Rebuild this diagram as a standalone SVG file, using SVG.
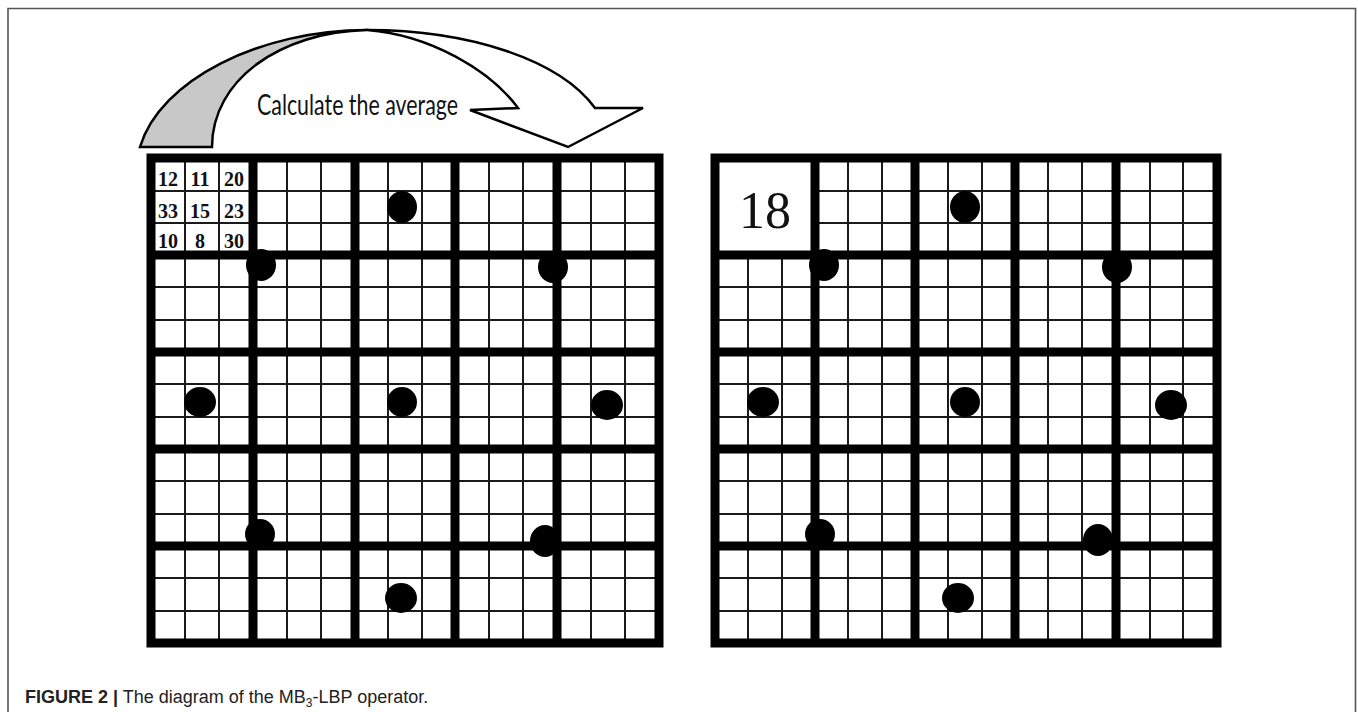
<svg xmlns="http://www.w3.org/2000/svg" width="1358" height="712" viewBox="0 0 1358 712">
<style>
.frame{fill:none;stroke:#555;stroke-width:1.6}
.fine{stroke:#1a1a1a;stroke-width:2;fill:none}
.thick{stroke:#000;stroke-width:9;fill:none;stroke-linecap:square}
.dot{fill:#000}
.num{font-family:"Liberation Serif",serif;font-weight:bold;font-size:20px;fill:#111;text-anchor:middle}
.big{font-family:"Liberation Serif",serif;font-size:52px;fill:#111;text-anchor:middle}
.arrow{stroke:#000;stroke-width:2.5;stroke-linejoin:miter}
.label{font-family:Lato,"Open Sans",sans-serif;font-size:28px;fill:#111}
.cap{font-family:"Liberation Sans",Arial,sans-serif;font-size:18px;fill:#222}
</style>
<rect width="1358" height="712" fill="#fff"/>
<path class="frame" d="M8,712 V8.5 H1355.5 V712"/>

<g id="arrow">
  <path class="arrow" fill="#c8c8c8" d="M140,147 C160,80 260,30 367,30 C280,32 212,80 212,147 Z"/>
  <path class="arrow" fill="#fff" d="M367,30 C470,30 560,60 595,108 L643,108 L568,147 L470,110 L518,108 C490,70 430,35 367,30 Z"/>
  <text class="label" x="257" y="115" textLength="201" lengthAdjust="spacingAndGlyphs">Calculate the average</text>
</g>

<g id="grid-left">
  <path class="fine" d="M185,158V643M219,158V643M287,158V643M321,158V643M388,158V643M422,158V643M489,158V643M523,158V643M591,158V643M625,158V643
  M151,191H659M151,223H659M151,287H659M151,320H659M151,384H659M151,417H659M151,481H659M151,514H659M151,578H659M151,611H659"/>
  <path class="thick" d="M151,158V643M253,158V643M355,158V643M455,158V643M557,158V643M659,158V643
  M151,158H659M151,255H659M151,352H659M151,449H659M151,546H659M151,643H659"/>
  <g id="values">
    <text class="num" x="168" y="186">12</text>
    <text class="num" x="200" y="186">11</text>
    <text class="num" x="234" y="186">20</text>
    <text class="num" x="168" y="218">33</text>
    <text class="num" x="200" y="218">15</text>
    <text class="num" x="234" y="218">23</text>
    <text class="num" x="168" y="248">10</text>
    <text class="num" x="200" y="248">8</text>
    <text class="num" x="234" y="248">30</text>
  </g>
  <g id="dots-left">
    <ellipse class="dot" cx="402" cy="207" rx="15" ry="16"/>
    <ellipse class="dot" cx="261" cy="265" rx="15" ry="16"/>
    <ellipse class="dot" cx="553" cy="267" rx="15" ry="16"/>
    <ellipse class="dot" cx="200" cy="402" rx="16" ry="15"/>
    <ellipse class="dot" cx="402" cy="402" rx="15" ry="15"/>
    <ellipse class="dot" cx="607" cy="405" rx="16" ry="15"/>
    <ellipse class="dot" cx="260" cy="534" rx="15" ry="15"/>
    <ellipse class="dot" cx="545" cy="541" rx="15" ry="16"/>
    <ellipse class="dot" cx="401" cy="598" rx="16" ry="15"/>
  </g>
</g>

<g id="grid-right">
  <path class="fine" d="M748,158V643M782,158V643M848,158V643M882,158V643M948,158V643M982,158V643M1048,158V643M1082,158V643M1150,158V643M1183,158V643
  M715,191H1217M715,223H1217M715,287H1217M715,320H1217M715,384H1217M715,417H1217M715,481H1217M715,514H1217M715,578H1217M715,611H1217"/>
  <rect x="715" y="158" width="100" height="97" fill="#fff"/>
  <path class="thick" d="M715,158V643M815,158V643M915,158V643M1015,158V643M1116,158V643M1217,158V643
  M715,158H1217M715,255H1217M715,352H1217M715,449H1217M715,546H1217M715,643H1217"/>
  <text id="average" class="big" x="765" y="228">18</text>
  <g id="dots-right">
    <ellipse class="dot" cx="965" cy="207" rx="15" ry="16"/>
    <ellipse class="dot" cx="824" cy="265" rx="15" ry="16"/>
    <ellipse class="dot" cx="1117" cy="267" rx="15" ry="16"/>
    <ellipse class="dot" cx="763" cy="402" rx="16" ry="15"/>
    <ellipse class="dot" cx="965" cy="402" rx="15" ry="15"/>
    <ellipse class="dot" cx="1171" cy="405" rx="16" ry="15"/>
    <ellipse class="dot" cx="820" cy="534" rx="15" ry="15"/>
    <ellipse class="dot" cx="1098" cy="540" rx="15" ry="16"/>
    <ellipse class="dot" cx="958" cy="598" rx="16" ry="15"/>
  </g>
</g>

<text class="cap" x="25" y="703"><tspan font-weight="bold">FIGURE 2 |</tspan> The diagram of the MB<tspan font-size="12" dy="4">3</tspan><tspan dy="-4">-LBP operator.</tspan></text>
</svg>
